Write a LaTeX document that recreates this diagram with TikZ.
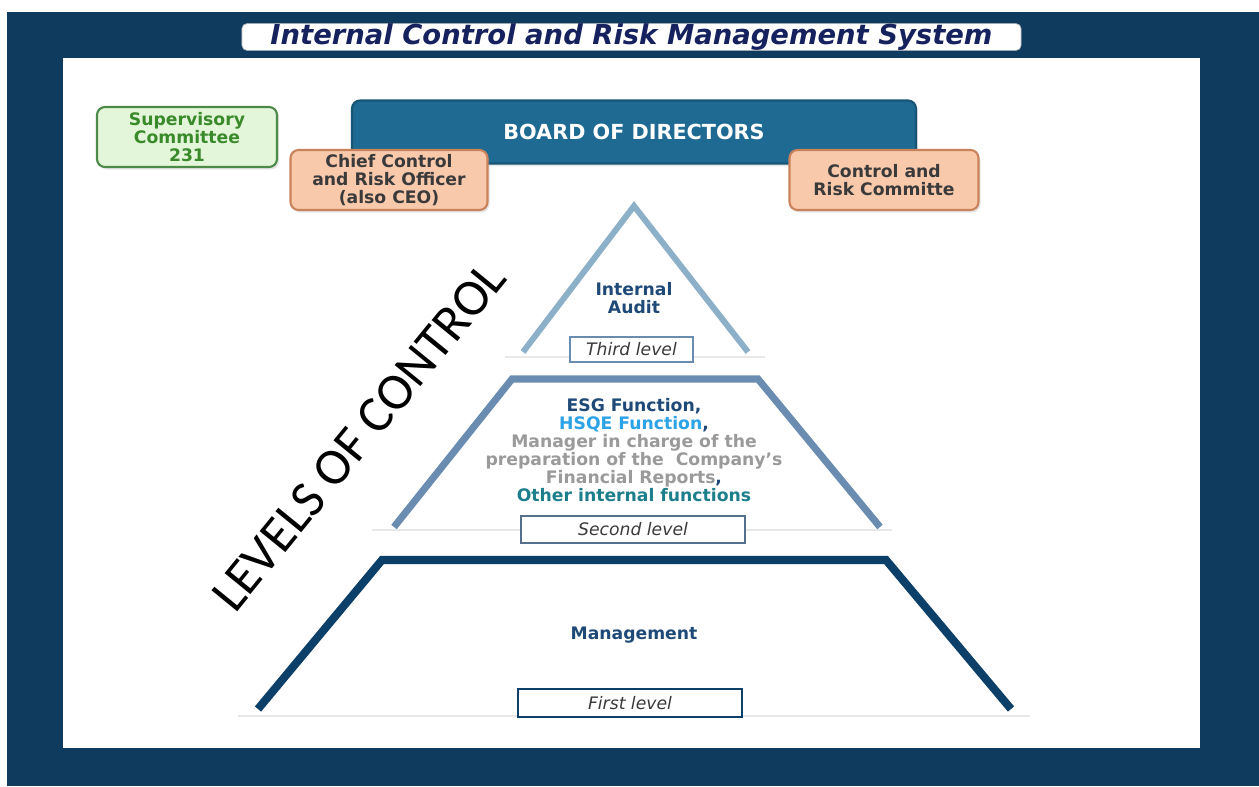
\documentclass[tikz,border=0pt]{standalone}
\usepackage{fontspec}
\usetikzlibrary{shadows}
\setsansfont{DejaVu Sans}
\newfontfamily\carlito{Carlito}
\definecolor{frame}{HTML}{0F3B5F}
\definecolor{titleblue}{HTML}{16225E}
\definecolor{boardblue}{HTML}{1E6A92}
\definecolor{greenfill}{HTML}{E4F6D9}
\definecolor{greenline}{HTML}{4B8A47}
\definecolor{greentext}{HTML}{3A8A2C}
\definecolor{peach}{HTML}{F9C9AC}
\definecolor{peachline}{HTML}{C9835A}
\definecolor{darktext}{HTML}{3A3A3A}
\definecolor{lvlthree}{HTML}{8DB0C9}
\definecolor{lvltwo}{HTML}{6A8CB0}
\definecolor{lvlone}{HTML}{0D4068}
\definecolor{navytext}{HTML}{1F4A78}
\definecolor{hsqe}{HTML}{2BA3E6}
\definecolor{mgrgray}{HTML}{9A9A9A}
\definecolor{teal}{HTML}{1D7F8C}
\begin{document}
\begin{tikzpicture}[x=0.2mm,y=-0.2mm]
						\tikzstyle{every node}=[font=\sffamily\bfseries\fontsize{9.8}{10.2}\selectfont, align=center, inner sep=0pt];
						\tikzstyle{box}=[draw, line width=1.2pt, rounded corners=1.6mm, minimum height=12mm, drop shadow={opacity=0.2, shadow xshift=0.4mm, shadow yshift=-0.5mm}];
						\tikzstyle{lvlbox}=[draw, fill=white, line width=1.1pt, font=\sffamily\itshape\fontsize{9.8}{10}\selectfont, text=darktext];
						\tikzstyle{base}=[draw=gray!18, line width=1.6pt];
						\fill[white] (0,0) rectangle (1259,786);
						\fill[frame] (7,12) rectangle (1259,786);
						\fill[white] (63,58) rectangle (1200,748);
						\path (631.5,37) node[draw=gray!50, fill=white, rounded corners=1mm, minimum width=155.8mm, minimum height=5.2mm, text=titleblue, font=\sffamily\bfseries\itshape\fontsize{15.6}{15.6}\selectfont] (v0) {Internal Control and Risk Management System};
						\path (634,132) node[box, draw=boardblue!80!black, fill=boardblue, text=white, minimum width=112.8mm, minimum height=12.6mm, font=\sffamily\bfseries\fontsize{11.8}{12}\selectfont] (v1) {BOARD OF DIRECTORS};
						\path (187,137) node[box, draw=greenline, fill=greenfill, text=greentext, minimum width=36mm] (v2) {Supervisory\\Committee\\231};
						\path (389,180) node[box, draw=peachline, fill=peach, text=darktext, minimum width=39.4mm] (v3) {Chief Control\\and Risk Officer\\(also CEO)};
						\path (884,180) node[box, draw=peachline, fill=peach, text=darktext, minimum width=37.8mm] (v4) {Control and\\Risk Committe};
						\draw[base] (505,357) -- (765,357);
						\draw[base] (372,530) -- (892,530);
						\draw[base] (238,716) -- (1030,716);
						\draw[lvlthree, line width=3.4pt, line join=miter] (523,352) -- (634,206) -- (748,352);
						\draw[lvltwo, line width=4pt, line join=miter] (394,527) -- (512,379) -- (758,379) -- (880,527);
						\draw[lvlone, line width=4.6pt, line join=miter] (258,709) -- (382,560) -- (886,560) -- (1011,709);
						\path (634,298) node[text=navytext] (v5) {Internal\\Audit};
						\path (634,450) node (v6) {\textcolor{navytext}{ESG Function,}\\\textcolor{hsqe}{HSQE Function}\textcolor{navytext}{,}\\\textcolor{mgrgray}{Manager in charge of the}\\\textcolor{mgrgray}{preparation of the\ \ Company's}\\\textcolor{mgrgray}{Financial Reports}\textcolor{navytext}{,}\\\textcolor{teal}{Other internal functions}};
						\path (634,635) node[text=navytext] (v7) {Management};
						\path (631.5,349.5) node[lvlbox, draw=lvltwo, minimum width=24.6mm, minimum height=5mm] (v8) {Third level};
						\path (633,529.5) node[lvlbox, draw=lvltwo!80!black, minimum width=44.8mm, minimum height=5.4mm] (v9) {Second level};
						\path (630,703) node[lvlbox, draw=lvlone, minimum width=44.8mm, minimum height=5.6mm] (v10) {First level};
						\path (372,447) node[rotate=50.8, anchor=base, font=\carlito\fontsize{29.5}{30}\selectfont] (v11) {LEVELS OF CONTROL};
					\end{tikzpicture}
\end{document}
